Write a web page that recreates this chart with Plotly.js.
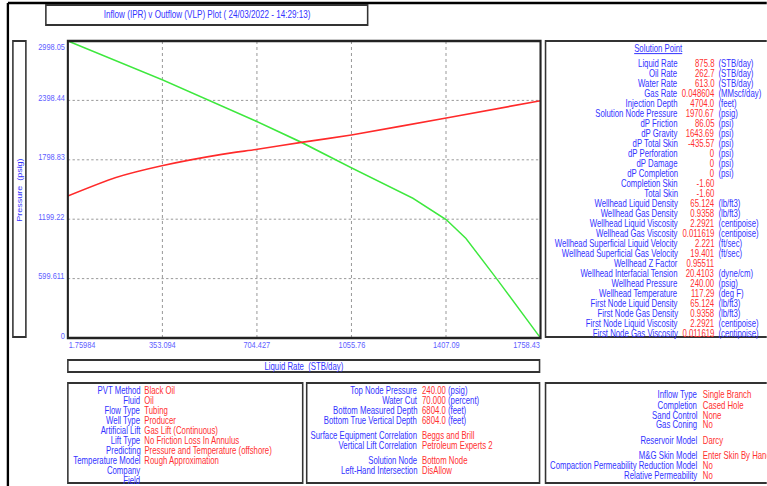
<!DOCTYPE html>
<html><head><meta charset="utf-8">
<script src="https://cdn.plot.ly/plotly-3.0.1.min.js"></script>
<style>html,body{margin:0;padding:0;background:#fff;overflow:hidden;width:767px;height:486px;} #chart{transform-origin:0 0;}</style>
</head><body><div id="chart"></div>
<script>
// ---------- data ----------
const iprRate = [1.75984, 354.6, 706, 870, 1055, 1160, 1284, 1408, 1481, 1594, 1758.43];
const iprPressure = [2998.05, 2604, 2183, 1975, 1719, 1578, 1410, 1195, 1006, 603, 0];
const vlpRate = [1.75984, 177.4, 350.9, 573.7, 706.3, 869.7, 1055.4, 1408.2, 1758.43];
const vlpPressure = [1434, 1618, 1739, 1854, 1905, 1975, 2049, 2221, 2395];
const xTicks = [1.75984, 353.094, 704.427, 1055.76, 1407.09, 1758.43];
const xTickLabels = ["1.75984", "353.094", "704.427", "1055.76", "1407.09", "1758.43"];
const yTicks = [0, 599.611, 1199.22, 1798.83, 2398.44, 2998.05];
const yTickLabels = ["0", "599.611", "1199.22", "1798.83", "2398.44", "2998.05"];

const titleText = "Inflow (IPR) v Outflow (VLP) Plot ( 24/03/2022 - 14:29:13)";
const xTitle = "Liquid Rate  (STB/day)";
const yTitle = "Pressure  (psig)";

const spTitle = "Solution Point";
const spLabels = ["Liquid Rate", "Oil Rate", "Water Rate", "Gas Rate", "Injection Depth", "Solution Node Pressure", "dP Friction", "dP Gravity", "dP Total Skin", "dP Perforation", "dP Damage", "dP Completion", "Completion Skin", "Total Skin", "Wellhead Liquid Density", "Wellhead Gas Density", "Wellhead Liquid Viscosity", "Wellhead Gas Viscosity", "Wellhead Superficial Liquid Velocity", "Wellhead Superficial Gas Velocity", "Wellhead Z Factor", "Wellhead Interfacial Tension", "Wellhead Pressure", "Wellhead Temperature", "First Node Liquid Density", "First Node Gas Density", "First Node Liquid Viscosity", "First Node Gas Viscosity"];
const spValues = ["875.8", "262.7", "613.0", "0.048604", "4704.0", "1970.67", "86.05", "1643.69", "-435.57", "0", "0", "0", "-1.60", "-1.60", "65.124", "0.9358", "2.2921", "0.011619", "2.221", "19.401", "0.95511", "20.4103", "240.00", "117.29", "65.124", "0.9358", "2.2921", "0.011619"];
const spUnits = ["(STB/day)", "(STB/day)", "(STB/day)", "(MMscf/day)", "(feet)", "(psig)", "(psi)", "(psi)", "(psi)", "(psi)", "(psi)", "(psi)", "", "", "(lb/ft3)", "(lb/ft3)", "(centipoise)", "(centipoise)", "(ft/sec)", "(ft/sec)", "", "(dyne/cm)", "(psig)", "(deg F)", "(lb/ft3)", "(lb/ft3)", "(centipoise)", "(centipoise)"];

const blLabels = ["PVT Method", "Fluid", "Flow Type", "Well Type", "Artificial Lift", "Lift Type", "Predicting", "Temperature Model", "Company", "Field"];
const blValues = ["Black Oil", "Oil", "Tubing", "Producer", "Gas Lift (Continuous)", "No Friction Loss In Annulus", "Pressure and Temperature (offshore)", "Rough Approximation", "", ""];

const bmLabels = ["Top Node Pressure", "Water Cut", "Bottom Measured Depth", "Bottom True Vertical Depth", "Surface Equipment Correlation", "Vertical Lift Correlation", "Solution Node", "Left-Hand Intersection"];
const bmValues = ["240.00", "70.000", "6804.0", "6804.0", "Beggs and Brill", "Petroleum Experts 2", "Bottom Node", "DisAllow"];
const bmUnits = ["(psig)", "(percent)", "(feet)", "(feet)", "", "", "", ""];

const brLabels = ["Inflow Type", "Completion", "Sand Control", "Gas Coning", "Reservoir Model", "M&G Skin Model", "Compaction Permeability Reduction Model", "Relative Permeability"];
const brValues = ["Single Branch", "Cased Hole", "None", "No", "Darcy", "Enter Skin By Hand", "No", "No"];

// ---------- layout helpers ----------
const W = 767, H = 486;
const S = 0.78;               // horizontal compression of the whole picture (narrow lettering)
const WI = W / S;             // internal drawing width before compression
const PL = 68, PR = 541, PT = 41, PB = 338;
const fx = px => (px - PL) / (PR - PL);
const fy = py => (PB - py) / (PB - PT);
const FONT = '"Liberation Sans", Arial, sans-serif';
const BLUE = '#3333ff', RED = '#ff3030', TICK = '#6060ff';
const esc = s => s.replace(/&/g, '&amp;');

const annotations = [];
function ann(text, px, py, xa, color, size, extra) {
  annotations.push(Object.assign({
    text: esc(text), xref: 'paper', yref: 'paper', x: fx(px), y: fy(py),
    xanchor: xa, yanchor: 'middle', showarrow: false, borderpad: 0,
    font: {family: FONT, size: size, color: color}
  }, extra || {}));
}
const shapes = [];
function rect(x0, y0, x1, y1, col, w) {
  shapes.push({type: 'rect', xref: 'paper', yref: 'paper', x0: fx(x0), x1: fx(x1), y0: fy(y0), y1: fy(y1),
    line: {color: col, width: w}, layer: 'above'});
}
function line(x0, y0, x1, y1, col, w) {
  shapes.push({type: 'line', xref: 'paper', yref: 'paper', x0: fx(x0), x1: fx(x1), y0: fy(y0), y1: fy(y1),
    line: {color: col, width: w}, layer: 'above'});
}

// frames
line(8, 486, 8, 3, '#000', 3);
line(8, 3, 770, 3, '#000', 2.5);
rect(46, 5, 368, 25, '#333', 2);
rect(13, 41, 26, 337, '#333', 2);
rect(68, 41, 541, 338, '#222', 2.7);
rect(546, 41, 772, 337, '#333', 2);
rect(68, 360, 540, 372, '#333', 2);
rect(68, 383, 303, 483, '#333', 2);
rect(307, 383, 540, 483, '#333', 2);
rect(546, 383, 772, 483, '#333', 2);

// titles
ann(titleText, 207, 15, 'center', BLUE, 10.4);
ann(xTitle, 304, 366, 'center', BLUE, 10);
ann(yTitle, 19.5, 190, 'center', BLUE, 9, {textangle: -90});

// tick labels (from arrays, placed through the data axes)
xTicks.forEach((v, i) => {
  const xa = i === 0 ? 'left' : (i === xTicks.length - 1 ? 'right' : 'center');
  annotations.push({text: xTickLabels[i], xref: 'x', yref: 'paper', x: v, y: fy(344), xanchor: xa, yanchor: 'middle',
    showarrow: false, borderpad: 0, font: {family: FONT, size: 9.5, color: TICK}});
});
yTicks.forEach((v, i) => {
  const last = i === yTicks.length - 1;
  annotations.push({text: yTickLabels[i], xref: 'paper', yref: 'y', x: fx(66), y: v, xanchor: 'right', yanchor: 'middle',
    yshift: last ? -5 : 3, showarrow: false, borderpad: 0, font: {family: FONT, size: 9.5, color: TICK}});
});

// solution point panel
ann('<u>' + spTitle + '</u>', 659, 48, 'center', BLUE, 10);
spLabels.forEach((l, i) => {
  const y = 63.3 + 10 * i;
  ann(l, 679, y, 'right', BLUE, 10);
  ann(spValues[i], 716, y, 'right', RED, 10);
  if (spUnits[i]) ann(spUnits[i], 718.5, y, 'left', BLUE, 10);
});

// bottom-left panel
blLabels.forEach((l, i) => {
  const y = 390 + 10 * i;
  ann(l, 141, y, 'right', BLUE, 10);
  if (blValues[i]) ann(blValues[i], 143.5, y, 'left', RED, 10);
});
// bottom-middle panel
const bmRows = [390, 400, 410, 420, 435, 445, 460, 470];
bmLabels.forEach((l, i) => {
  ann(l, 418.5, bmRows[i], 'right', BLUE, 10);
  const t = '<span style="color:' + RED + '">' + esc(bmValues[i]) + '</span>' + (bmUnits[i] ? ' ' + bmUnits[i] : '');
  annotations.push({text: t, xref: 'paper', yref: 'paper', x: fx(421.5), y: fy(bmRows[i]), xanchor: 'left', yanchor: 'middle',
    showarrow: false, borderpad: 0, font: {family: FONT, size: 10, color: BLUE}});
});
// bottom-right panel
const brRows = [395, 405, 415, 425, 440, 455, 465, 475];
brLabels.forEach((l, i) => {
  ann(l, 698.5, brRows[i], 'right', BLUE, 10);
  ann(brValues[i], 702.5, brRows[i], 'left', RED, 10);
});

const traces = [
  {x: iprRate, y: iprPressure, type: 'scatter', mode: 'lines', name: 'IPR', line: {color: '#3ee83e', width: 1.7}},
  {x: vlpRate, y: vlpPressure, type: 'scatter', mode: 'lines', name: 'VLP', line: {color: '#ff2a2a', width: 1.7, shape: 'spline', smoothing: 0.6}}
];

const axisBase = {showgrid: true, gridcolor: '#8c8c8c', griddash: 'dot', gridwidth: 1, zeroline: false, showline: false,
  ticks: '', showticklabels: false, tickmode: 'array', fixedrange: true};

const layout = {
  width: WI, height: H,
  margin: {l: PL / S, r: (W - PR) / S, t: PT, b: H - PB, pad: 0},
  paper_bgcolor: '#fff', plot_bgcolor: '#fff', showlegend: false,
  xaxis: Object.assign({}, axisBase, {range: [xTicks[0], xTicks[xTicks.length - 1]], tickvals: xTicks}),
  yaxis: Object.assign({}, axisBase, {range: [yTicks[0], yTicks[yTicks.length - 1]], tickvals: yTicks}),
  shapes: shapes, annotations: annotations
};

const el = document.getElementById('chart');
el.style.width = WI + 'px';
el.style.height = H + 'px';
el.style.transform = 'scaleX(' + S + ')';
Plotly.newPlot(el, traces, layout, {displayModeBar: false, staticPlot: true});
</script>
</body></html>
